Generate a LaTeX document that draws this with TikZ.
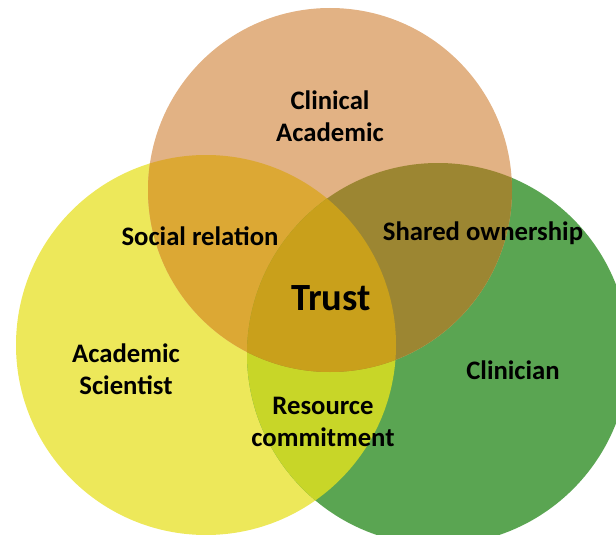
\documentclass[tikz,border=0pt]{standalone}
\usepackage{fontspec}
\setmainfont{Carlito}
\definecolor{cOr}{HTML}{E2B284}
\definecolor{cYe}{HTML}{EDE85A}
\definecolor{cGr}{HTML}{5AA552}
\definecolor{cYO}{HTML}{DCA834}
\definecolor{cOG}{HTML}{9C8632}
\definecolor{cYG}{HTML}{C8D628}
\definecolor{cAll}{HTML}{C9A01B}
\tikzset{
  lbl/.style={font=\fontsize{26.7}{31.5}\selectfont\bfseries, align=center, text=black, inner sep=0pt},
  big/.style={font=\fontsize{38.5}{44}\selectfont\bfseries, text=black, inner sep=0pt}
}
\begin{document}
\begin{tikzpicture}[x=1pt,y=-1pt]
\useasboundingbox (0,0) rectangle (616,535);
\clip (0,0) rectangle (616,535);
\coordinate (Y) at (206,345);
\coordinate (O) at (330,190);
\coordinate (G) at (438,354);
% base circles
\fill[cYe] (Y) circle (190pt);
\fill[cGr] (G) circle (191pt);
\fill[cOr] (O) circle (182pt);
% pairwise overlaps
\begin{scope}
  \clip (Y) circle (190pt);
  \fill[cYO] (O) circle (182pt);
  \fill[cYG] (G) circle (191pt);
\end{scope}
\begin{scope}
  \clip (G) circle (191pt);
  \fill[cOG] (O) circle (182pt);
\end{scope}
% triple overlap
\begin{scope}
  \clip (Y) circle (190pt);
  \clip (G) circle (191pt);
  \fill[cAll] (O) circle (182pt);
\end{scope}
% labels
\node[lbl] (ca) at (330,116) {Clinical\\Academic};
\node[lbl] (sr) at (200,236) {Social relation};
\node[lbl] (so) at (483,233) {Shared ownership};
\node[big] (tr) at (331,298) {Trust};
\node[lbl] (as) at (126,369) {Academic\\Scientist};
\node[lbl] (cl) at (513,370) {Clinician};
\node[lbl] (rc) at (323,422) {Resource\\commitment};
\end{tikzpicture}
\end{document}
